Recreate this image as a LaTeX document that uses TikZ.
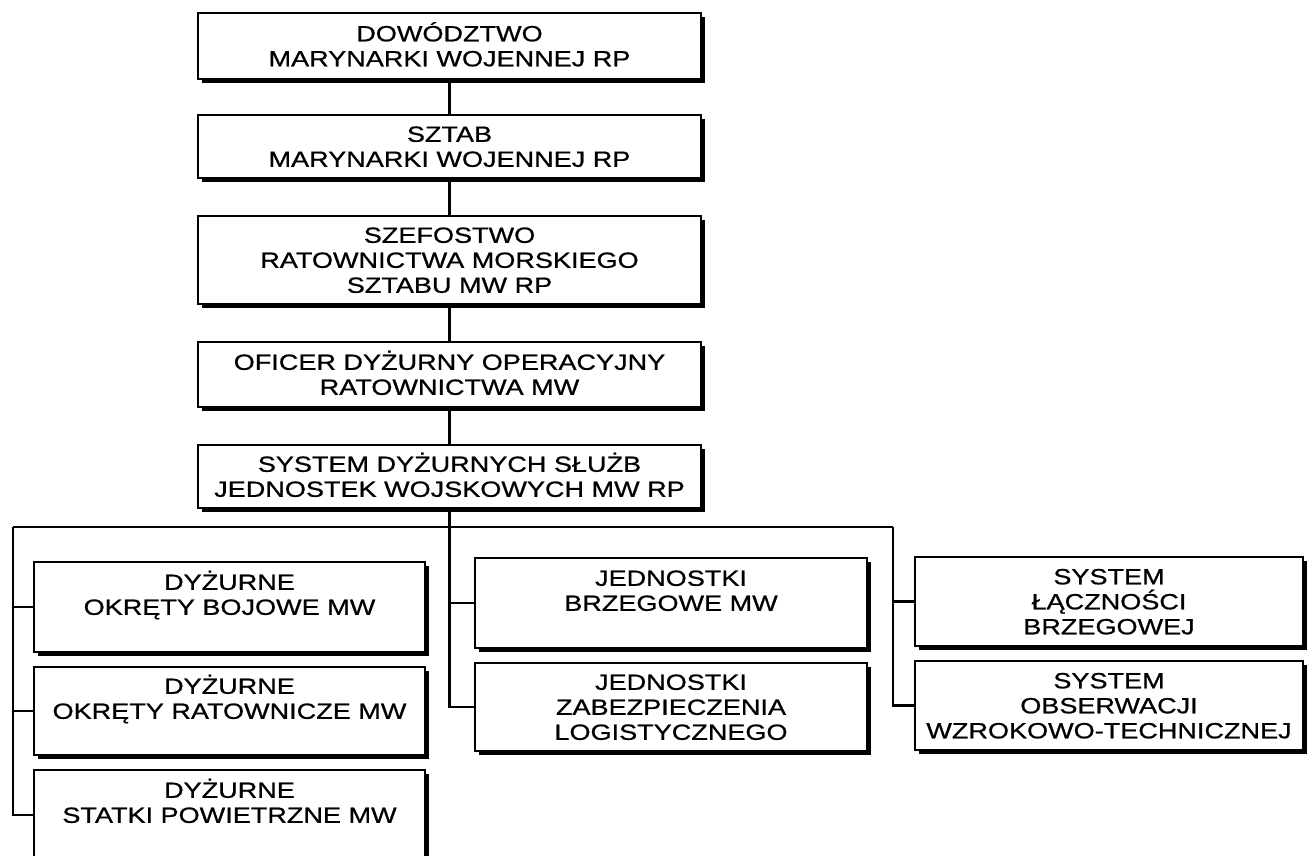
\documentclass[tikz,border=0pt]{standalone}
\usepackage{fontspec}
\setmainfont{Liberation Sans}[FakeStretch=1.23,FakeBold=0.8]
\usetikzlibrary{shadows}
\tikzset{
  box/.style={draw=black, line width=2.6pt, fill=white, rectangle, inner sep=0pt,
    align=center, text depth=4.4pt,
    font=\fontsize{22}{25}\selectfont,
    drop shadow={shadow xshift=4pt, shadow yshift=-4pt, opacity=1, fill=black}},
  two/.style={text height=45pt},
  three/.style={text height=70pt},
  topbox/.style={box, minimum width=503pt},
  lbox/.style={box, three, minimum width=391pt, minimum height=89pt},
  conn/.style={draw=black, line width=2.2pt}
}
\begin{document}
\begin{tikzpicture}[x=1pt,y=-1pt]
\useasboundingbox (0,0) rectangle (1314,856);
\fill[white] (0,0) rectangle (1314,856);
% top chain
\node[topbox, two, minimum height=66pt] (b1) at (449.5,46) {DOWÓDZTWO\\MARYNARKI WOJENNEJ RP};
\node[topbox, two, minimum height=63pt] (b2) at (449.5,146.5) {SZTAB\\MARYNARKI WOJENNEJ RP};
\node[topbox, three, minimum height=88pt] (b3) at (449.5,260) {SZEFOSTWO\\RATOWNICTWA MORSKIEGO\\SZTABU MW RP};
\node[topbox, two, minimum height=65pt] (b4) at (449.5,374.5) {OFICER DYŻURNY OPERACYJNY\\RATOWNICTWA MW};
\node[topbox, two, minimum height=63pt] (b5) at (449.5,476.5) {SYSTEM DYŻURNYCH SŁUŻB\\JEDNOSTEK WOJSKOWYCH MW RP};
% lower boxes
\node[lbox, minimum height=90pt] (la) at (229.5,607) {DYŻURNE\\OKRĘTY BOJOWE MW\\~};
\node[lbox, minimum height=88pt] (lb) at (229.5,711) {DYŻURNE\\OKRĘTY RATOWNICZE MW\\~};
\node[lbox, minimum height=90pt] (lc) at (229.5,815) {DYŻURNE\\STATKI POWIETRZNE MW\\~};
\node[lbox, minimum width=392pt, minimum height=90pt] (ma) at (671,603) {JEDNOSTKI\\BRZEGOWE MW\\~};
\node[lbox, minimum width=392pt, minimum height=88pt] (mb) at (671,707) {JEDNOSTKI\\ZABEZPIECZENIA\\LOGISTYCZNEGO};
\node[lbox, minimum width=388pt, minimum height=89pt] (ra) at (1109,601.5) {SYSTEM\\ŁĄCZNOŚCI\\BRZEGOWEJ};
\node[lbox, minimum width=388pt, minimum height=89pt] (rb) at (1109,705.5) {SYSTEM\\OBSERWACJI\\WZROKOWO-TECHNICZNEJ};
% connectors
\coordinate (busL) at (13,527);
\coordinate (busM) at (b5.south |- 0,527);
\coordinate (busR) at (893,527);
\draw[conn] (b1) -- (b2);
\draw[conn] (b2) -- (b3);
\draw[conn] (b3) -- (b4);
\draw[conn] (b4) -- (b5);
\draw[conn] (b5) -- (busM);
\draw[conn] (busL) -- (busR);
\draw[conn] (busL) |- (la.west);
\draw[conn] (busL) |- (lb.west);
\draw[conn] (busL) |- (lc.west);
\draw[conn] (busM) |- (ma.west);
\draw[conn] (busM) |- (mb.west);
\draw[conn] (busR) |- (ra.west);
\draw[conn] (busR) |- (rb.west);
\end{tikzpicture}
\end{document}
